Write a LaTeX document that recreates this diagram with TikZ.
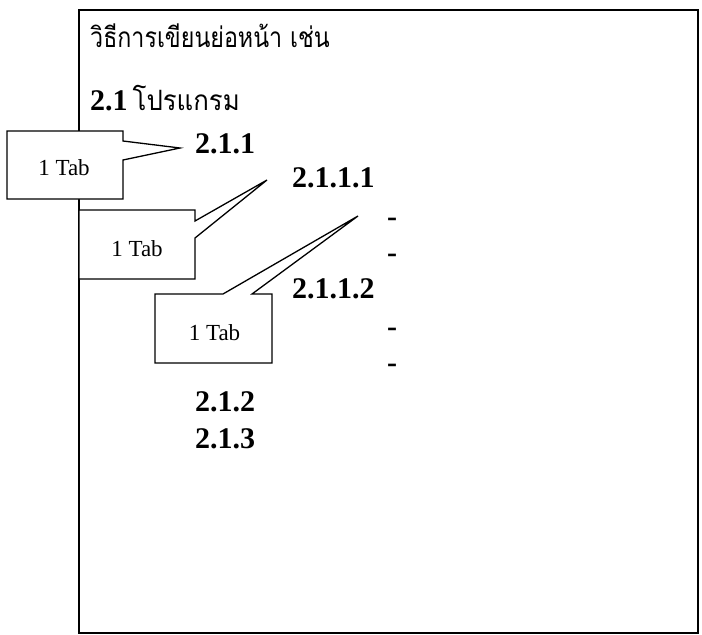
\documentclass[tikz,border=0pt]{standalone}
\usepackage{graphicx}
\usepackage{fontspec}
\setmainfont{Liberation Serif}
\newfontfamily\thaifont[Script=Thai]{Loma}
\begin{document}
\begin{tikzpicture}[x=1pt,y=-1pt,
  frame/.style={draw=black,line width=2pt},
  callout/.style={draw=black,line width=1.3pt,fill=white,line join=miter},
  tabtext/.style={font=\fontsize{23}{27}\selectfont,inner sep=0pt,anchor=base},
  num/.style={font=\fontsize{30}{36}\selectfont\bfseries,anchor=base west,inner sep=0pt},
  dashmark/.style={font=\fontsize{30}{36}\selectfont\bfseries,anchor=base,inner sep=0pt},
  thai/.style={anchor=base west,inner sep=0pt}]
\useasboundingbox (0,0) rectangle (702,635);
\draw[frame] (79,10) rectangle (698,633);

% heading texts
\node[thai] (head) at (90,47) {\thaifont\fontsize{28}{33}\selectfont\scalebox{0.83}[1]{วิธีการเขียนย่อหน้า เช่น}};
\node[thai] (sec) at (90,110) {{\bfseries\fontsize{30}{36}\selectfont 2.1}\hspace{5pt}{\thaifont\fontsize{28}{33}\selectfont\scalebox{0.92}[1]{โปรแกรม}}};

% numbered items
\node[num] (n211) at (195,153) {2.1.1};
\node[num] (n2111) at (292,187) {2.1.1.1};
\node[dashmark] (d1) at (392,226) {-};
\node[dashmark] (d2) at (392,262) {-};
\node[num] (n2112) at (292,298) {2.1.1.2};
\node[dashmark] (d3) at (392,336) {-};
\node[dashmark] (d4) at (392,372) {-};
\node[num] (n212) at (195,411) {2.1.2};
\node[num] (n213) at (195,448) {2.1.3};

% callouts
\coordinate (tip1) at (180,148);
\coordinate (tip2) at (267,180);
\coordinate (tip3) at (358,216);
\draw[callout] (7,131) -- (123,131) -- (123,141) -- (tip1) -- (123,160) -- (123,199) -- (7,199) -- cycle;
\node[tabtext] (tab1) at (64,175) {1 Tab};
\draw[callout] (79,210) -- (195,210) -- (195,221) -- (tip2) -- (195,238) -- (195,279) -- (79,279) -- cycle;
\node[tabtext] (tab2) at (137,256) {1 Tab};
\draw[callout] (155,294) -- (223,294) -- (tip3) -- (252,294) -- (272,294) -- (272,363) -- (155,363) -- cycle;
\node[tabtext] (tab3) at (214.5,340) {1 Tab};
\end{tikzpicture}
\end{document}
